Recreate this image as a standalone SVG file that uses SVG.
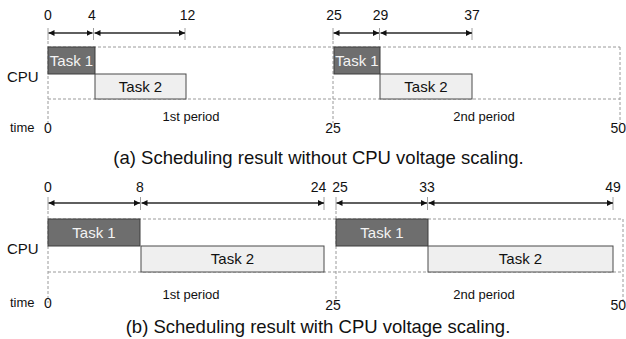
<svg xmlns="http://www.w3.org/2000/svg" width="626" height="339" viewBox="0 0 626 339">
  <style>
    text { font-family: "Liberation Sans", Arial, sans-serif; fill: #111; }
    .num { font-size: 14px; text-anchor: middle; }
    .edge { font-size: 14px; text-anchor: end; }
    .axis { font-size: 13px; }
    .cpu { font-size: 15px; }
    .per { font-size: 13px; text-anchor: middle; }
    .cap { font-size: 18.5px; text-anchor: middle; }
    .tl { font-size: 15px; text-anchor: middle; }
    .t1 rect { fill: #6e6e6e; stroke: #3c3c3c; stroke-width: 1; }
    .t1 text { fill: #f4f4f4; }
    .t2 rect { fill: #efefef; stroke: #4a4a4a; stroke-width: 1; }
    .frame { fill: none; stroke: #9a9a9a; stroke-width: 1; stroke-dasharray: 3 2; }
    .tick { stroke: #a0a0a0; stroke-width: 1; }
    .span { stroke: #2a2a2a; stroke-width: 1.3; fill: none; marker-start: url(#head); marker-end: url(#head); }
  </style>
  <defs>
    <marker id="head" viewBox="0 0 10 10" refX="10" refY="5" markerWidth="6" markerHeight="6" markerUnits="userSpaceOnUse" orient="auto-start-reverse">
      <path d="M0,0 L10,5 L0,10 z" fill="#111"/>
    </marker>
  </defs>
  <rect width="626" height="339" fill="#fff"/>

  <!-- (a) without voltage scaling -->
  <g id="panel-a">
    <g id="frame-a">
      <line class="frame" x1="48" y1="47" x2="620" y2="47"/>
      <line class="frame" x1="48" y1="99" x2="620" y2="99"/>
      <line class="frame" x1="48" y1="41" x2="48" y2="123"/>
      <line class="frame" x1="333" y1="41" x2="333" y2="123"/>
      <line class="frame" x1="620" y1="47" x2="620" y2="123"/>
    </g>
    <g id="ticks-a">
      <line class="tick" x1="48" y1="28" x2="48" y2="40"/>
      <line class="tick" x1="93.5" y1="28" x2="93.5" y2="40"/>
      <line class="tick" x1="185" y1="28" x2="185" y2="40"/>
      <line class="tick" x1="333" y1="28" x2="333" y2="40"/>
      <line class="tick" x1="379.5" y1="28" x2="379.5" y2="40"/>
      <line class="tick" x1="472" y1="28" x2="472" y2="40"/>
    </g>
    <g id="a-task1-p1" class="t1">
      <rect x="48" y="47" width="47" height="27"/>
      <text class="tl" x="71.5" y="66">Task 1</text>
    </g>
    <g id="a-task2-p1" class="t2">
      <rect x="95" y="74" width="91" height="25"/>
      <text class="tl" x="140.5" y="92">Task 2</text>
    </g>
    <g id="a-task1-p2" class="t1">
      <rect x="334" y="47" width="46" height="27"/>
      <text class="tl" x="357" y="66">Task 1</text>
    </g>
    <g id="a-task2-p2" class="t2">
      <rect x="380" y="74" width="92" height="25"/>
      <text class="tl" x="426" y="92">Task 2</text>
    </g>
    <g id="labels-a">
      <text class="num" x="48" y="20">0</text>
      <text class="num" x="92" y="20">4</text>
      <text class="num" x="187.5" y="20">12</text>
      <text class="num" x="334" y="20">25</text>
      <text class="num" x="380.5" y="20">29</text>
      <text class="num" x="472" y="20">37</text>
      <text class="cpu" x="7" y="82">CPU</text>
      <text class="per" x="191" y="121">1st period</text>
      <text class="per" x="484" y="121">2nd period</text>
      <text class="axis" x="10" y="132">time</text>
      <text class="num" x="48" y="133">0</text>
      <text class="num" x="333" y="133">25</text>
      <text class="edge" x="626" y="133">50</text>
      <text class="cap" x="318.5" y="164">(a) Scheduling result without CPU voltage scaling.</text>
    </g>
  </g>

  <!-- (b) with voltage scaling -->
  <g id="panel-b">
    <g id="frame-b">
      <line class="frame" x1="48" y1="219" x2="623" y2="219"/>
      <line class="frame" x1="48" y1="272" x2="623" y2="272"/>
      <line class="frame" x1="48" y1="211" x2="48" y2="303"/>
      <line class="frame" x1="336" y1="211" x2="336" y2="303"/>
      <line class="frame" x1="623" y1="219" x2="623" y2="303"/>
    </g>
    <g id="ticks-b">
      <line class="tick" x1="48" y1="197" x2="48" y2="210"/>
      <line class="tick" x1="140.5" y1="197" x2="140.5" y2="210"/>
      <line class="tick" x1="324" y1="197" x2="324" y2="210"/>
      <line class="tick" x1="336" y1="197" x2="336" y2="210"/>
      <line class="tick" x1="427.5" y1="197" x2="427.5" y2="210"/>
      <line class="tick" x1="613" y1="197" x2="613" y2="210"/>
    </g>
    <g id="b-task1-p1" class="t1">
      <rect x="48" y="219" width="92" height="27"/>
      <text class="tl" x="94" y="238">Task 1</text>
    </g>
    <g id="b-task2-p1" class="t2">
      <rect x="141" y="246" width="183" height="26"/>
      <text class="tl" x="232.5" y="264">Task 2</text>
    </g>
    <g id="b-task1-p2" class="t1">
      <rect x="336" y="219" width="92" height="27"/>
      <text class="tl" x="382" y="238">Task 1</text>
    </g>
    <g id="b-task2-p2" class="t2">
      <rect x="428" y="246" width="185" height="26"/>
      <text class="tl" x="520.5" y="264">Task 2</text>
    </g>
    <g id="labels-b">
      <text class="num" x="48" y="192">0</text>
      <text class="num" x="140" y="192">8</text>
      <text class="num" x="318.5" y="192">24</text>
      <text class="num" x="340" y="192">25</text>
      <text class="num" x="427" y="192">33</text>
      <text class="num" x="613" y="192">49</text>
      <text class="cpu" x="7" y="254">CPU</text>
      <text class="per" x="191" y="299">1st period</text>
      <text class="per" x="484" y="299">2nd period</text>
      <text class="axis" x="10" y="307">time</text>
      <text class="num" x="48" y="308">0</text>
      <text class="num" x="333" y="310">25</text>
      <text class="edge" x="626" y="310">50</text>
      <text class="cap" x="318" y="333">(b) Scheduling result with CPU voltage scaling.</text>
    </g>
  </g>

  <!-- duration arrows -->
  <g id="connectors">
    <line class="span" x1="48.5" y1="33" x2="92.5" y2="33"/>
    <line class="span" x1="94.5" y1="33" x2="185" y2="33"/>
    <line class="span" x1="333.5" y1="33" x2="379" y2="33"/>
    <line class="span" x1="380.5" y1="33" x2="472" y2="33"/>
    <line class="span" x1="48.5" y1="203" x2="140" y2="203"/>
    <line class="span" x1="141.5" y1="203" x2="324" y2="203"/>
    <line class="span" x1="336.5" y1="203" x2="427" y2="203"/>
    <line class="span" x1="428.5" y1="203" x2="613" y2="203"/>
  </g>
</svg>
